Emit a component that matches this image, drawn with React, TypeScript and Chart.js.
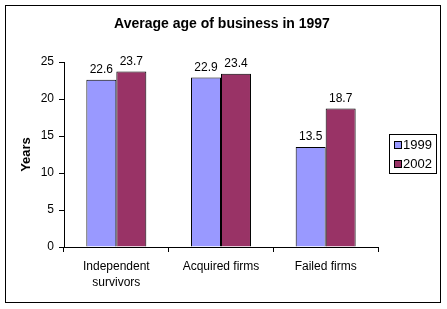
import React, { useEffect, useRef } from "react";
import { Chart, registerables } from "chart.js";

Chart.register(...registerables);

const chartTitle = "Average age of business in 1997";
const yAxisTitle = "Years";
const categories: (string | string[])[] = [["Independent", "survivors"], "Acquired firms", "Failed firms"];
const seriesNames = ["1999", "2002"];
const values1999 = [22.6, 22.9, 13.5];
const values2002 = [23.7, 23.4, 18.7];
const seriesColors = ["#9999FF", "#993366"];
const yMin = 0;
const yMax = 25;
const yStep = 5;

const FONT = "'Liberation Sans', Arial, sans-serif";

const decorPlugin = {
  id: "decor",
  afterDatasetsDraw(chart: any) {
    const ctx = chart.ctx;
    ctx.save();
    ctx.fillStyle = "#000";
    ctx.font = `12px ${FONT}`;
    ctx.textAlign = "center";
    ctx.textBaseline = "alphabetic";
    chart.data.datasets.forEach((ds: any, i: number) => {
      const meta = chart.getDatasetMeta(i);
      meta.data.forEach((bar: any, j: number) => {
        ctx.fillText(String(ds.data[j]), bar.x, bar.y - 7);
      });
    });
    ctx.restore();
  },
  afterDraw(chart: any) {
    const ctx = chart.ctx;
    ctx.save();
    ctx.strokeStyle = "#000";
    ctx.lineWidth = 1;
    ctx.strokeRect(5.5, 5.5, 435, 297);
    ctx.fillStyle = "#000";
    ctx.font = `bold 14px ${FONT}`;
    ctx.textAlign = "center";
    ctx.textBaseline = "middle";
    ctx.fillText(chartTitle, 222, 24);
    ctx.strokeRect(389.5, 134.5, 47, 39);
    ctx.font = `13px ${FONT}`;
    ctx.textAlign = "left";
    chart.data.datasets.forEach((ds: any, i: number) => {
      const cy = 145 + i * 19;
      ctx.fillStyle = ds.backgroundColor;
      ctx.fillRect(395, cy - 3, 6, 6);
      ctx.strokeStyle = "#000";
      ctx.strokeRect(394.5, cy - 3.5, 7, 7);
      ctx.fillStyle = "#000";
      ctx.fillText(ds.label, 403, cy + 0.5);
    });
    ctx.restore();
  },
};

export default function App() {
  const canvasRef = useRef<HTMLCanvasElement | null>(null);

  useEffect(() => {
    const canvas = canvasRef.current;
    if (!canvas) return;
    const chart = new Chart(canvas, {
      type: "bar",
      data: {
        labels: categories,
        datasets: [
          {
            label: seriesNames[0],
            data: values1999,
            backgroundColor: seriesColors[0],
            borderColor: "#000",
            borderWidth: 1,
            categoryPercentage: 0.573,
            barPercentage: 1,
          },
          {
            label: seriesNames[1],
            data: values2002,
            backgroundColor: seriesColors[1],
            borderColor: "#000",
            borderWidth: 1,
            categoryPercentage: 0.573,
            barPercentage: 1,
          },
        ],
      },
      options: {
        responsive: false,
        animation: false,
        devicePixelRatio: 1,
        layout: { padding: { left: 0, top: 62, right: 69, bottom: 22 } },
        plugins: {
          legend: { display: false },
          title: { display: false },
          tooltip: { enabled: false },
        },
        scales: {
          x: {
            grid: {
              display: true,
              offset: true,
              drawOnChartArea: false,
              drawTicks: true,
              tickLength: 5,
              color: "#000",
            },
            border: { display: true, color: "#000", width: 1 },
            ticks: {
              color: "#000",
              font: { family: FONT, size: 12, lineHeight: 1.33 },
              padding: 7,
              maxRotation: 0,
              autoSkip: false,
            },
            afterFit: (s: any) => {
              s.height = 40;
            },
          },
          y: {
            min: yMin,
            max: yMax,
            grid: {
              display: true,
              drawOnChartArea: false,
              drawTicks: true,
              tickLength: 5,
              color: "#000",
            },
            border: { display: true, color: "#000", width: 1 },
            ticks: {
              stepSize: yStep,
              color: "#000",
              font: { family: FONT, size: 12 },
              padding: 5,
            },
            title: {
              display: true,
              text: yAxisTitle,
              color: "#000",
              font: { family: FONT, size: 13, weight: "bold" },
              padding: { top: 19, bottom: 0 },
            },
            afterFit: (s: any) => {
              s.width = 64;
            },
          },
        },
      },
      plugins: [decorPlugin],
    });
    return () => chart.destroy();
  }, []);

  return (
    <div style={{ position: "absolute", left: 0, top: 0, width: 447, height: 309, background: "#fff" }}>
      <canvas ref={canvasRef} width={447} height={309} style={{ display: "block" }} />
    </div>
  );
}
